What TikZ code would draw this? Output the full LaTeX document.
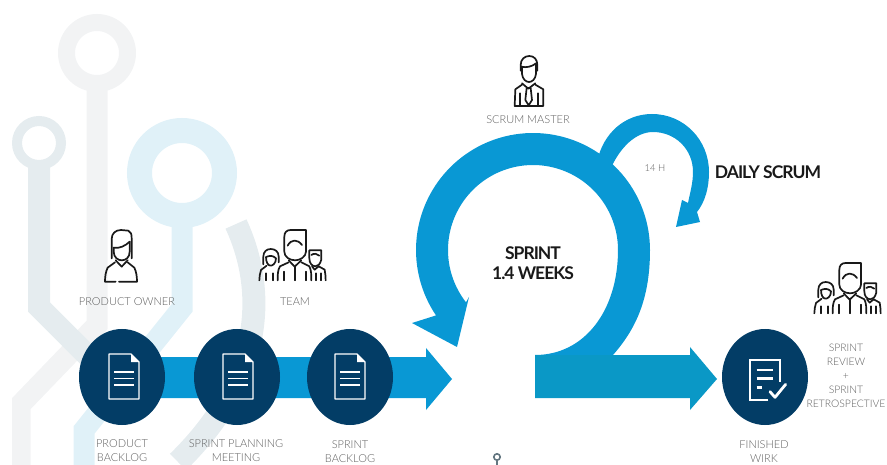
\documentclass[tikz,border=0pt]{standalone}
\usepackage{fontspec}
\setmainfont{Lato}
\newfontfamily\lightfont{Lato Light}
\usetikzlibrary{shapes.geometric}
\definecolor{ringblue}{HTML}{0998D4}
\definecolor{tealblue}{HTML}{0A98C6}
\definecolor{navy}{HTML}{033D66}
\definecolor{decogray}{HTML}{F2F3F4}
\definecolor{decoslate}{HTML}{E5ECEF}
\definecolor{decoblue}{HTML}{E0F1F8}
\definecolor{labelgray}{HTML}{5E5E5E}
\tikzset{
  x=1pt,y=-1pt,
  disc/.style={ellipse,fill=navy,minimum width=86pt,minimum height=96pt,inner sep=0pt},
  lab/.style={font=\lightfont\fontsize{11}{14}\selectfont,text=labelgray,align=center,inner sep=0pt},
  head/.style={font=\bfseries\fontsize{17.5}{20}\selectfont\addfontfeature{LetterSpace=-5.7},text=black!90,align=center,inner sep=0pt},
  ink/.style={draw=black!90,line width=1.7pt,line cap=round,line join=round,fill=none},
  paper/.style={draw=white,line width=1.4pt,line join=round,fill=none},
  docicon/.pic={
    \draw[paper] (0,0)--(22,0)--(30,8)--(30,45)--(0,45)--cycle;
    \fill[white] (22,0)--(30,8)--(22,8)--cycle;
    \draw[paper] (5,18)--(25,18) (5,24.5)--(25,24.5) (5,31)--(25,31);
  },
  womanicon/.pic={
    \begin{scope}[scale=1/3]
    \draw[ink] (50,100)--(50,42) .. controls (50,25) and (62,15) .. (78,15)--(100,17) .. controls (108,20) and (110,28) .. (110,40)--(110,100);
    \draw[ink] (56,68) .. controls (72,72) and (92,62) .. (104,50);
    \draw[ink] (56,68)--(56,80) .. controls (56,98) and (70,106) .. (80,106) .. controls (92,106) and (104,98) .. (104,80)--(104,50);
    \draw[ink] (62,106)--(80,125)--(98,106);
    \draw[ink] (60,112)--(38,128) .. controls (32,140) and (30,155) .. (30,170)--(62,170);
    \draw[ink] (98,112)--(118,128) .. controls (124,140) and (126,155) .. (126,170)--(72,170);
    \end{scope}
  },
  teamicon/.pic={
    \begin{scope}[scale=1/3]
    \draw[ink] (85,80)--(85,35) .. controls (85,22) and (92,15) .. (104,15)--(150,15)--(150,80) .. controls (150,95) and (132,106) .. (118,106) .. controls (100,106) and (85,95) .. (85,80);
    \draw[ink] (95,62) .. controls (105,42) and (125,42) .. (138,60);
    \draw[ink] (98,106)--(116,125)--(136,106);
    \draw[ink] (116,125)--(116,166);
    \draw[ink] (98,112)--(72,124) .. controls (65,135) and (65,150) .. (65,166);
    \draw[ink] (136,112)--(160,124) .. controls (166,135) and (166,150) .. (166,166);
    \draw[ink] (84,140)--(84,166) (150,140)--(150,166);
    \draw[ink] (22,118)--(22,95) .. controls (22,80) and (32,72) .. (44,72) .. controls (58,72) and (68,80) .. (68,95)--(68,112);
    \draw[ink] (30,96) .. controls (40,92) and (50,90) .. (60,100) .. controls (60,115) and (50,122) .. (44,122) .. controls (36,122) and (30,112) .. (30,96);
    \draw[ink] (32,122)--(15,135) .. controls (12,145) and (10,155) .. (10,166);
    \draw[ink] (30,145)--(30,166) (52,145)--(52,166);
    \draw[ink] (160,76)--(196,76)--(196,104) .. controls (192,118) and (186,124) .. (178,124) .. controls (168,124) and (160,114) .. (160,100)--cycle;
    \draw[ink] (166,90) .. controls (174,84) and (184,86) .. (190,92);
    \draw[ink] (168,124)--(176,134)--(188,124);
    \draw[ink] (188,124)--(206,134) .. controls (208,145) and (209,155) .. (209,166);
    \draw[ink] (180,145)--(180,166) (196,145)--(196,166);
    \end{scope}
  },
  mastericon/.pic={
    \begin{scope}[scale=1/3]
    \draw[ink] (62,62)--(62,45) .. controls (62,28) and (74,18) .. (88,18) .. controls (102,18) and (112,28) .. (112,45)--(112,62);
    \draw[ink] (64,50) .. controls (78,54) and (96,50) .. (108,40);
    \draw[ink] (66,52)--(66,72) .. controls (68,88) and (78,96) .. (87,96) .. controls (96,96) and (106,88) .. (108,72)--(108,42);
    \draw[ink] (66,100)--(85,116)--(106,100);
    \draw[ink] (80,114)--(92,114)--(96,150)--(86,166)--(76,150)--cycle;
    \draw[ink] (66,104)--(46,118)--(44,168)--(130,168)--(130,118)--(106,104);
    \draw[ink] (60,130)--(60,166) (115,130)--(115,166);
    \end{scope}
  },
  checkicon/.pic={
    \begin{scope}[scale=1/3]
    \draw[draw=white,line width=2.4pt,line join=miter,line cap=butt] (100,165)--(45,165)--(45,45)--(135,45)--(135,110);
    \draw[draw=white,line width=2.4pt] (65,75)--(115,75) (65,100)--(115,100) (65,127)--(82,127);
    \draw[draw=white,line width=2.8pt,line cap=round,line join=round] (105,140)--(120,157)--(152,118);
    \end{scope}
  }
}
\begin{document}
\begin{tikzpicture}
\useasboundingbox (0,0) rectangle (887,465);
% background circuit shapes
\begin{scope}
\clip (12,0) rectangle (887,465);
\draw[decogray,line width=21pt] (97,85)--(97,325)--(20,405)--(20,470);
\draw[decogray,line width=17pt] (97,53) circle[radius=30.5];
\draw[decoslate,line width=22pt] (39,165)--(39,307)--(105,373);
\draw[decoslate,line width=10pt] (39,143) circle[radius=22];
\draw[decoslate,line width=23pt] (236,224) .. controls (262,280) and (272,370) .. (178,462);
\draw[decoblue,line width=21pt] (182,220)--(182,308)--(84,430)--(84,470);
\draw[decoblue,line width=25pt] (182,173) circle[radius=42.5];
\end{scope}
% daily scrum loop
\fill[ringblue] (597,162) .. controls (603,133) and (625,114) .. (652,114)
  .. controls (684,114) and (709,140) .. (709,172)
  .. controls (709,188) and (705,202) .. (697,212)
  -- (700,222) -- (676,227) -- (682,200) -- (688,203)
  .. controls (690,193) and (693,183) .. (693,172)
  .. controls (693,149) and (675,132) .. (653,132)
  .. controls (636,132) and (620,147) .. (610,170) -- cycle;
% sprint loop
\fill[ringblue] (613,355) .. controls (635,330) and (650,300) .. (650,250)
  -- plot[domain=0:-214,samples=90] ({533+117*cos(\x)},{250+117*sin(\x)})
  -- (412,323) -- (457,347) -- (469,297)
  -- plot[domain=-218:0,samples=90] ({533+85*cos(\x)},{250+85*sin(\x)})
  .. controls (618,310) and (585,355) .. (535,355) -- cycle;
% arrows
\fill[tealblue] (535,355)--(690,355)--(690,347)--(717,379)--(690,410)--(690,398)--(535,398)--cycle;
\fill[ringblue] (122,357)--(426,357)--(426,348)--(452,379)--(426,410)--(426,398)--(122,398)--cycle;
% discs
\node[disc] (pb) at (122,377) {};
\node[disc] (pm) at (237,377) {};
\node[disc] (sb) at (350,377) {};
\node[disc] (fw) at (765,377) {};
\pic at (109,354) {docicon};
\pic at (223,354) {docicon};
\pic at (335,354) {docicon};
\pic at (735,345) {checkicon};
% people
\pic at (95,225) {womanicon};
\pic at (256,225) {teamicon};
\pic at (811,258) {teamicon};
\pic at (500,50) {mastericon};
\draw[draw=black!60!cyan!60!gray,line width=1.6pt] (497,457) circle[radius=3.2] (497,460)--(497,465);
% labels
\node[lab] (powner) at (127,302) {PRODUCT OWNER};
\node[lab] (team) at (295,302) {TEAM};
\node[lab] (pblog) at (122,451) {PRODUCT\\BACKLOG};
\node[lab] (spm) at (236,451) {SPRINT PLANNING\\MEETING};
\node[lab] (sblog) at (350,451.5) {SPRINT\\BACKLOG};
\node[lab] (smaster) at (528,120) {SCRUM MASTER};
\node[lab,font=\lightfont\fontsize{9.5}{12}\selectfont] (hours) at (655,168) {14 H};
\node[head] (daily) at (768,172) {DAILY SCRUM};
\node[head] (sprint) at (533,263) {SPRINT\\1.4 WEEKS};
\node[lab,font=\lightfont\fontsize{10.4}{14}\selectfont] (review) at (846,375.5) {SPRINT\\REVIEW\\+\\SPRINT\\RETROSPECTIVE};
\node[lab] (finished) at (764,452) {FINISHED\\WIRK};
\end{tikzpicture}
\end{document}
